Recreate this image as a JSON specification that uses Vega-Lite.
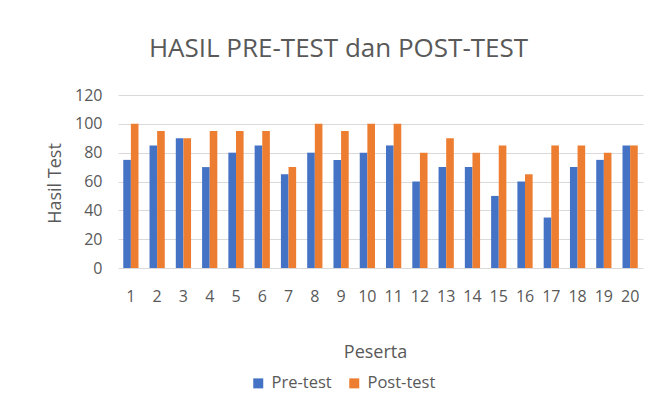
{
  "$schema": "https://vega.github.io/schema/vega-lite/v6.json",
  "autosize": "none",
  "width": 525,
  "height": 173,
  "padding": {"left": 118, "top": 95, "right": 11, "bottom": 143},
  "background": "white",
  "config": {
    "font": "Open Sans",
    "view": {"stroke": null}
  },
  "title": {
    "text": "HASIL PRE-TEST dan POST-TEST",
    "fontSize": 26,
    "fontWeight": "normal",
    "color": "#595959",
    "anchor": "middle",
    "frame": "group",
    "dx": -42,
    "offset": 25
  },
  "data": {
    "values": [
      {"Peserta": 1, "Tes": "Pre-test", "Nilai": 75}, {"Peserta": 1, "Tes": "Post-test", "Nilai": 100},
      {"Peserta": 2, "Tes": "Pre-test", "Nilai": 85}, {"Peserta": 2, "Tes": "Post-test", "Nilai": 95},
      {"Peserta": 3, "Tes": "Pre-test", "Nilai": 90}, {"Peserta": 3, "Tes": "Post-test", "Nilai": 90},
      {"Peserta": 4, "Tes": "Pre-test", "Nilai": 70}, {"Peserta": 4, "Tes": "Post-test", "Nilai": 95},
      {"Peserta": 5, "Tes": "Pre-test", "Nilai": 80}, {"Peserta": 5, "Tes": "Post-test", "Nilai": 95},
      {"Peserta": 6, "Tes": "Pre-test", "Nilai": 85}, {"Peserta": 6, "Tes": "Post-test", "Nilai": 95},
      {"Peserta": 7, "Tes": "Pre-test", "Nilai": 65}, {"Peserta": 7, "Tes": "Post-test", "Nilai": 70},
      {"Peserta": 8, "Tes": "Pre-test", "Nilai": 80}, {"Peserta": 8, "Tes": "Post-test", "Nilai": 100},
      {"Peserta": 9, "Tes": "Pre-test", "Nilai": 75}, {"Peserta": 9, "Tes": "Post-test", "Nilai": 95},
      {"Peserta": 10, "Tes": "Pre-test", "Nilai": 80}, {"Peserta": 10, "Tes": "Post-test", "Nilai": 100},
      {"Peserta": 11, "Tes": "Pre-test", "Nilai": 85}, {"Peserta": 11, "Tes": "Post-test", "Nilai": 100},
      {"Peserta": 12, "Tes": "Pre-test", "Nilai": 60}, {"Peserta": 12, "Tes": "Post-test", "Nilai": 80},
      {"Peserta": 13, "Tes": "Pre-test", "Nilai": 70}, {"Peserta": 13, "Tes": "Post-test", "Nilai": 90},
      {"Peserta": 14, "Tes": "Pre-test", "Nilai": 70}, {"Peserta": 14, "Tes": "Post-test", "Nilai": 80},
      {"Peserta": 15, "Tes": "Pre-test", "Nilai": 50}, {"Peserta": 15, "Tes": "Post-test", "Nilai": 85},
      {"Peserta": 16, "Tes": "Pre-test", "Nilai": 60}, {"Peserta": 16, "Tes": "Post-test", "Nilai": 65},
      {"Peserta": 17, "Tes": "Pre-test", "Nilai": 35}, {"Peserta": 17, "Tes": "Post-test", "Nilai": 85},
      {"Peserta": 18, "Tes": "Pre-test", "Nilai": 70}, {"Peserta": 18, "Tes": "Post-test", "Nilai": 85},
      {"Peserta": 19, "Tes": "Pre-test", "Nilai": 75}, {"Peserta": 19, "Tes": "Post-test", "Nilai": 80},
      {"Peserta": 20, "Tes": "Pre-test", "Nilai": 85}, {"Peserta": 20, "Tes": "Post-test", "Nilai": 85}
    ]
  },
  "mark": {"type": "bar"},
  "encoding": {
    "x": {
      "field": "Peserta",
      "type": "ordinal",
      "scale": {"paddingInner": 0.42, "paddingOuter": 0.2},
      "axis": {
        "title": "Peserta",
        "labelAngle": 0,
        "labelFontSize": 16,
        "labelColor": "#595959",
        "labelPadding": 20,
        "ticks": false,
        "domain": false,
        "titleFontSize": 18,
        "titleFontWeight": "normal",
        "titleColor": "#595959",
        "titleX": 257,
        "titleY": 89,
        "titleBaseline": "alphabetic"
      }
    },
    "xOffset": {"field": "Tes", "type": "nominal", "sort": ["Pre-test", "Post-test"]},
    "y": {
      "field": "Nilai",
      "type": "quantitative",
      "scale": {"domain": [0, 120]},
      "axis": {
        "title": "Hasil Test",
        "values": [0, 20, 40, 60, 80, 100, 120],
        "labelFontSize": 16,
        "labelColor": "#595959",
        "labelPadding": 16,
        "ticks": false,
        "domain": false,
        "gridColor": "#d9d9d9",
        "gridWidth": 1,
        "titleFontSize": 18,
        "titleFontWeight": "normal",
        "titleColor": "#595959",
        "titleX": -63,
        "titleY": 88,
        "titleBaseline": "middle"
      }
    },
    "color": {
      "field": "Tes",
      "type": "nominal",
      "sort": ["Pre-test", "Post-test"],
      "scale": {"domain": ["Pre-test", "Post-test"], "range": ["#4472C4", "#ED7D31"]},
      "legend": {
        "title": null,
        "orient": "none",
        "direction": "horizontal",
        "legendX": 132,
        "legendY": 280,
        "symbolType": "square",
        "symbolSize": 100,
        "labelFontSize": 16.5,
        "labelOffset": 5,
        "labelColor": "#595959",
        "columnPadding": 14
      }
    }
  }
}
